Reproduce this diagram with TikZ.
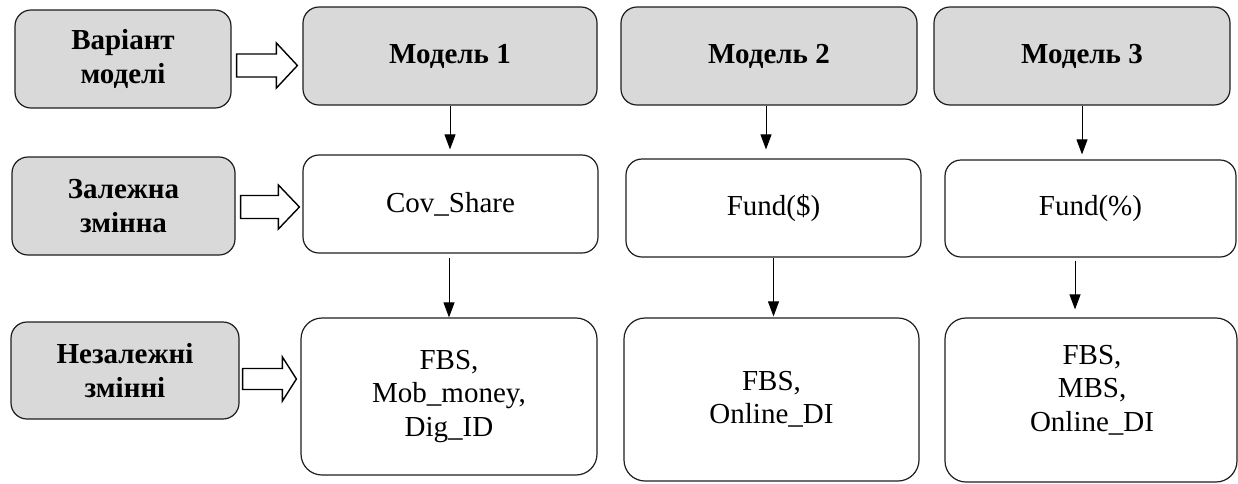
\documentclass[tikz,border=0pt]{standalone}
\usepackage{fontspec}
\setmainfont{Liberation Serif}
\usetikzlibrary{arrows.meta,calc}
\definecolor{boxgray}{RGB}{217,217,217}
\definecolor{edge}{RGB}{30,30,30}
\tikzset{
  basebox/.style={draw=edge, line width=1.2pt, inner sep=0pt, align=center,
    font=\fontsize{29}{33.5}\selectfont},
  graybox/.style={basebox, fill=boxgray, rounded corners=16pt, font=\fontsize{29}{33.5}\selectfont\bfseries},
  whitebox/.style={basebox, fill=white, rounded corners=16pt},
  tallbox/.style={basebox, fill=white, rounded corners=21pt},
  txt/.style={inner sep=0pt, align=center, font=\fontsize{29}{33.5}\selectfont},
  hollow/.style={draw=black, line width=1.4pt, fill=white, line join=miter},
  arr/.style={draw=black, line width=1pt, -{Triangle[length=15pt,width=11pt]}}
}
\newcommand{\hollowarrow}[5]{%
  \draw[hollow] let \p1=(#1), \p2=(#2) in
    (\x1,\y1+#3pt) -- (\x2-#5pt,\y1+#3pt) -- (\x2-#5pt,\y1+#4pt) -- (\x2,\y1)
    -- (\x2-#5pt,\y1-#4pt) -- (\x2-#5pt,\y1-#3pt) -- (\x1,\y1-#3pt) -- cycle;}
\begin{document}
\begin{tikzpicture}[x=1pt,y=-1pt]
\useasboundingbox (0,0) rectangle (1238,483);
% left column
\node[graybox, minimum width=216pt, minimum height=98pt] (var) at (123,59) {Варіант\\моделі};
\node[graybox, minimum width=223pt, minimum height=98pt] (dep) at (123.5,206) {Залежна\\змінна};
\node[graybox, minimum width=228pt, minimum height=97pt] (ind) at (125,370.5) {Незалежні\\змінні};
% models
\node[graybox, minimum width=294pt, minimum height=98pt] (m1) at (450,56) {Модель 1};
\node[graybox, minimum width=296pt, minimum height=98pt] (m2) at (769,56) {Модель 2};
\node[graybox, minimum width=296pt, minimum height=98pt] (m3) at (1082,56) {Модель 3};
% dependent
\node[whitebox, minimum width=295pt, minimum height=98pt] (d1) at (450.5,204) {Cov\_Share};
\node[whitebox, minimum width=295pt, minimum height=98pt] (d2) at (773.5,208) {Fund(\$)};
\node[whitebox, minimum width=291pt, minimum height=97pt] (d3) at (1090.5,208.5) {Fund(\%)};
% independent
\node[tallbox, minimum width=296pt, minimum height=157pt] (i1) at (449,396.5) {FBS,\\Mob\_money,\\Dig\_ID};
\node[tallbox, minimum width=295pt, minimum height=163pt] (i2) at (771.5,399.5) {FBS,\\Online\_DI};
\node[tallbox, minimum width=292pt, minimum height=164pt] (i3) at (1091,400) {};
\node[txt] (i3t) at (1092,390) {FBS,\\MBS,\\Online\_DI};
% hollow arrows
\hollowarrow{$(var.east)+(5,6.5)$}{$(m1.west)+(-5,0)$}{11.5}{22.5}{21}
\hollowarrow{$(dep.east)+(5,1)$}{$(d1.west)+(-3,0)$}{11.5}{22}{21}
\hollowarrow{$(ind.east)+(3,8.5)$}{$(i1.west)+(-4,0)$}{10.5}{22}{14}
% vertical arrows
\draw[arr] (m1.south) -- ($(m1.south |- d1.north)+(0,-5)$);
\draw[arr] ($(m2.south)+(-3,0)$) -- ($(m2.south |- d2.north)+(-3,-9)$);
\draw[arr] (m3.south) -- ($(m3.south |- d3.north)+(0,-5)$);
\draw[arr] ($(d1.south)+(-1.5,4)$) -- ($(d1.south |- i1.north)+(-1.5,0)$);
\draw[arr] (d2.south) -- ($(d2.south |- i2.north)+(0,-1)$);
\draw[arr] ($(d3.south)+(-15.5,3)$) -- ($(d3.south |- i3.north)+(-15.5,-8)$);
\end{tikzpicture}
\end{document}
